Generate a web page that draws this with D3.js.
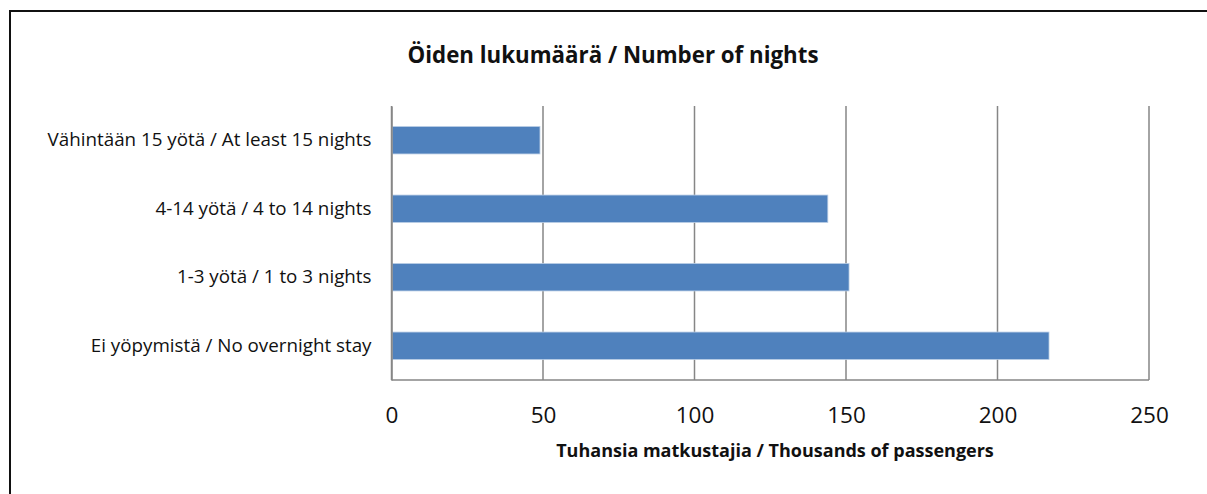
<!DOCTYPE html>
<html>
<head>
<meta charset="utf-8">
<script src="https://cdn.jsdelivr.net/npm/d3@7"></script>
<style>
  body { margin: 0; background: #fff; }
  svg { display: block; font-family: 'Open Sans', sans-serif; }
</style>
</head>
<body>
<div id="chart"></div>
<script>
// data
const categories = [
  'Vähintään 15 yötä / At least 15 nights',
  '4-14 yötä / 4 to 14 nights',
  '1-3 yötä / 1 to 3 nights',
  'Ei yöpymistä / No overnight stay'
];
const values = [49, 144, 151, 217];
const tickValues = [0, 50, 100, 150, 200, 250];

const width = 1207, height = 494;
const plot = { left: 391.5, right: 1149, top: 106, bottom: 380 };
const barColor = '#4f81bd';
const gridColor = '#868686';

const svg = d3.select('#chart').append('svg')
  .attr('width', width)
  .attr('height', height);

// outer frame (only top and left edges are in the picture)
svg.append('rect')
  .attr('x', 10).attr('y', 11)
  .attr('width', width + 20).attr('height', height + 20)
  .attr('fill', 'none')
  .attr('stroke', '#111')
  .attr('stroke-width', 2);

const x = d3.scaleLinear()
  .domain([0, 250])
  .range([plot.left, plot.right]);

const y = d3.scaleBand()
  .domain(categories)
  .range([plot.top, plot.bottom])
  .paddingInner(0.6)
  .paddingOuter(0.3);

// vertical gridlines
svg.append('g')
  .selectAll('line')
  .data(tickValues)
  .enter()
  .append('line')
  .attr('x1', d => x(d)).attr('x2', d => x(d))
  .attr('y1', plot.top).attr('y2', plot.bottom)
  .attr('stroke', gridColor)
  .attr('stroke-width', 1.5);

// bottom axis line
svg.append('line')
  .attr('x1', plot.left).attr('x2', plot.right)
  .attr('y1', plot.bottom).attr('y2', plot.bottom)
  .attr('stroke', gridColor)
  .attr('stroke-width', 1.5);

// bars
svg.append('g')
  .selectAll('rect')
  .data(categories)
  .enter()
  .append('rect')
  .attr('x', x(0) + 0.75)
  .attr('y', d => y(d))
  .attr('width', (d, i) => x(values[i]) - x(0) - 0.75)
  .attr('height', y.bandwidth())
  .attr('fill', barColor)
  .attr('stroke', '#b9cde5')
  .attr('stroke-width', 0.8);

// x axis via d3 axis, then strip lines
const xAxis = svg.append('g')
  .attr('transform', 'translate(0,' + plot.bottom + ')')
  .call(d3.axisBottom(x).tickValues(tickValues).tickSize(0).tickPadding(27));
xAxis.select('.domain').remove();
xAxis.selectAll('text')
  .attr('font-family', "'Open Sans', sans-serif")
  .attr('font-size', '22.5px')
  .attr('fill', '#111');

// y axis labels
const yAxis = svg.append('g')
  .attr('transform', 'translate(' + plot.left + ',0)')
  .call(d3.axisLeft(y).tickSize(0).tickPadding(20));
yAxis.select('.domain')
  .attr('stroke', gridColor)
  .attr('stroke-width', 1.5);
yAxis.selectAll('text')
  .attr('font-family', "'Open Sans', sans-serif")
  .attr('font-size', '18.8px')
  .attr('fill', '#111');

// title
svg.append('text')
  .attr('x', 613)
  .attr('y', 63)
  .attr('text-anchor', 'middle')
  .attr('font-size', '22.3px')
  .attr('font-weight', 700)
  .attr('fill', '#111')
  .text('Öiden lukumäärä / Number of nights');

// axis title
svg.append('text')
  .attr('x', 775)
  .attr('y', 457)
  .attr('text-anchor', 'middle')
  .attr('font-size', '18px')
  .attr('font-weight', 700)
  .attr('fill', '#111')
  .text('Tuhansia matkustajia / Thousands of passengers');
</script>
</body>
</html>
